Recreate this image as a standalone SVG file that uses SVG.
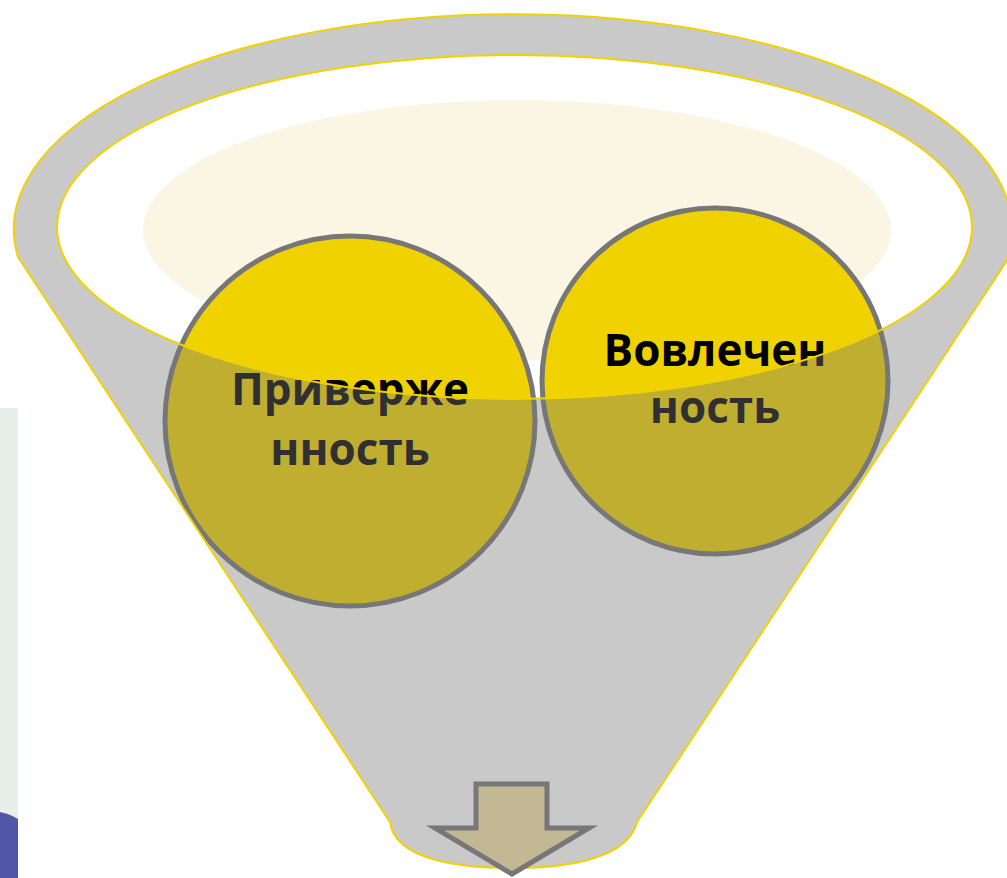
<svg xmlns="http://www.w3.org/2000/svg" width="1007" height="878" viewBox="0 0 1007 878">
  <style>
    .node-circle { fill: #F0D200; stroke: #777777; stroke-width: 5; }
    .label { font-family: "Open Sans", "Liberation Sans", sans-serif; font-weight: 700; font-size: 44px; fill: #000000; text-anchor: middle; }
    .funnel { fill: #777777; fill-opacity: 0.4; stroke: #F0D200; stroke-width: 2; fill-rule: evenodd; }
    .arrow { fill: #C2B894; stroke: #777777; stroke-width: 5; }
  </style>

  <!-- background strip on the left edge -->
  <rect x="0" y="408" width="18" height="470" fill="#E8EFE9"/>
  <path d="M0,812 Q10,814 18,819 L18,878 L0,878 Z" fill="#5157A6"/>

  <!-- cream glow inside the funnel mouth -->
  <ellipse cx="517" cy="230" rx="374" ry="130" fill="#FBF5E3"/>

  <g id="node-priverzhennost">
    <circle class="node-circle" cx="350" cy="421" r="185"/>
    <text class="label" x="350" y="405">Приверже</text>
    <text class="label" x="350" y="465">нность</text>
  </g>

  <g id="node-vovlechennost">
    <circle class="node-circle" cx="715" cy="381" r="173"/>
    <text class="label" x="715" y="366">Вовлечен</text>
    <text class="label" x="715" y="423">ность</text>
  </g>

  <!-- funnel body, translucent over the circles, with the open mouth cut out -->
  <path class="funnel" d="M18,257 A499,215 0 1 1 1006,262 L637,822 C628,858 570,868 512,868 C460,868 395,860 390,822 Z M57,227 A457.5,172 0 1 0 972,227 A457.5,172 0 1 0 57,227 Z"/>

  <!-- outflow arrow at the funnel neck -->
  <path class="arrow" d="M476,784 L547,784 L547,828 L589,828 L512,874 L435,828 L476,828 Z"/>
</svg>
